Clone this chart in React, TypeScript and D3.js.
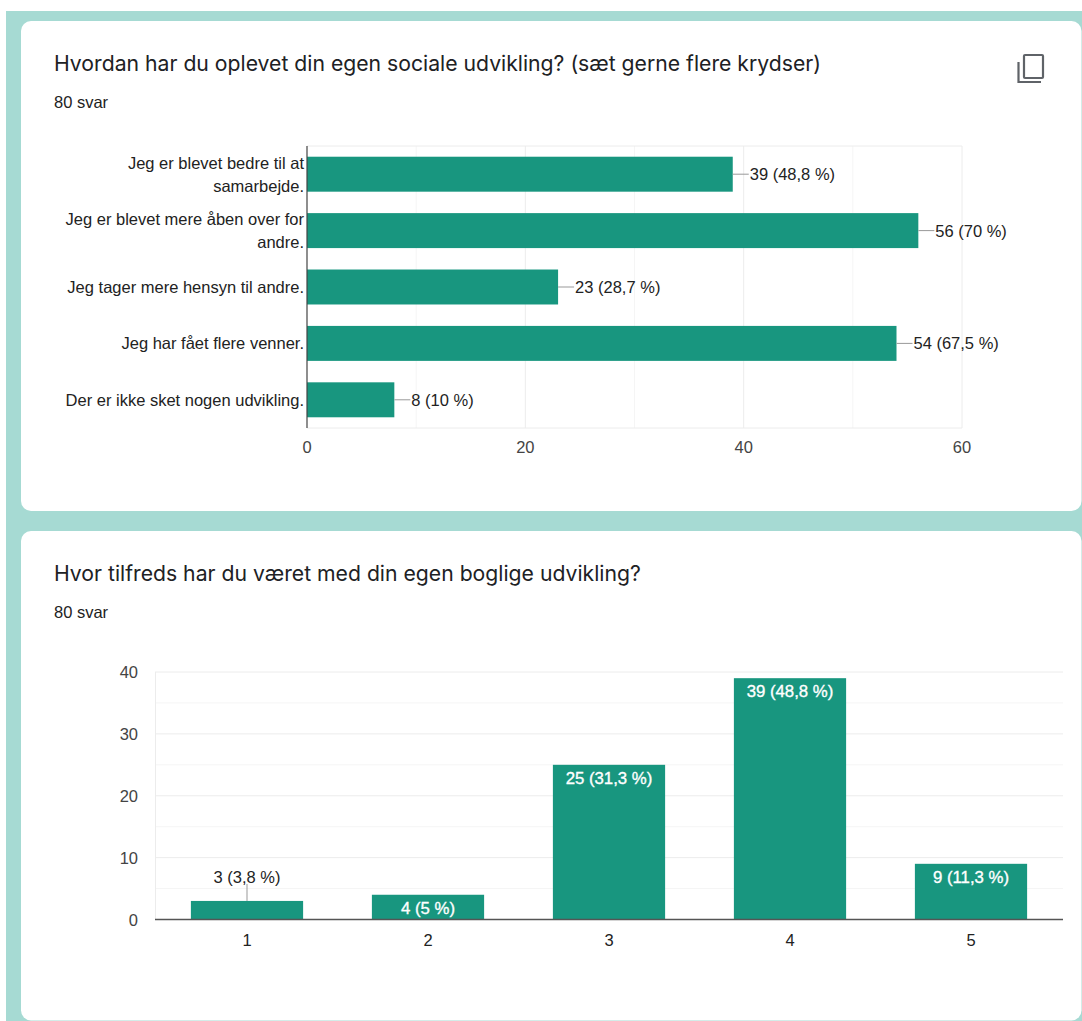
import React from "react";
import * as d3 from "d3";

const title1 = "Hvordan har du oplevet din egen sociale udvikling? (sæt gerne flere krydser)";
const title2 = "Hvor tilfreds har du været med din egen boglige udvikling?";
const answers = "80 svar";
const cats1 = [
  ["Jeg er blevet bedre til at", "samarbejde."],
  ["Jeg er blevet mere åben over for", "andre."],
  ["Jeg tager mere hensyn til andre."],
  ["Jeg har fået flere venner."],
  ["Der er ikke sket nogen udvikling."],
];
const values1 = [39, 56, 23, 54, 8];
const labels1 = ["39 (48,8 %)", "56 (70 %)", "23 (28,7 %)", "54 (67,5 %)", "8 (10 %)"];
const ticks1 = [0, 20, 40, 60];
const minor1 = [10, 30, 50];

const cats2 = ["1", "2", "3", "4", "5"];
const values2 = [3, 4, 25, 39, 9];
const labels2 = ["3 (3,8 %)", "4 (5 %)", "25 (31,3 %)", "39 (48,8 %)", "9 (11,3 %)"];
const ticks2 = [0, 10, 20, 30, 40];
const minor2 = [5, 15, 25, 35];

const TEAL = "#18967f";
const BG = "#a6dad3";
const GRID = "#ececec";
const MINOR = "#f5f5f5";
const ARIAL = "'Liberation Sans', Arial, sans-serif";
const TITLE = "Inter, Roboto, sans-serif";
const TEXT = "#222222";

const x1 = d3.scaleLinear().domain([0, 60]).range([307, 962]);
const y1 = d3.scaleBand<number>().domain(d3.range(5)).range([146, 428]).paddingInner(0.38).paddingOuter(0.19);
const x2 = d3.scaleBand<string>().domain(cats2).range([156.5, 1061.5]).paddingInner(0.38).paddingOuter(0.19);
const y2 = d3.scaleLinear().domain([0, 40]).range([919.5, 672]);

export default function App() {
  return (
    <svg width={1082} height={1021} style={{ position: "absolute", left: 0, top: 0, background: "#fff" }}>
      <rect x={6} y={11} width={1076} height={1010} fill={BG} />
      <rect x={21} y={21} width={1060.5} height={490} rx={10} fill="#fff" />
      <rect x={21} y={531} width={1060.5} height={489.5} rx={10} fill="#fff" />

      <text x={54} y={71} fontFamily={TITLE} fontSize={21.2} fill="#202124">{title1}</text>
      <text x={54} y={108} fontFamily={ARIAL} fontSize={16.5} fill={TEXT}>{answers}</text>
      <g fill="none" stroke="#5f6368" strokeWidth={2.2}>
        <rect x={1024} y={55} width={19} height={23} rx={1} />
        <path d="M1018.5 62 V82 H1041" />
      </g>

      {/* chart 1 */}
      <g>
        {minor1.map(t => <line key={t} x1={x1(t)} x2={x1(t)} y1={146} y2={428} stroke={MINOR} />)}
        {ticks1.slice(1).map(t => <line key={t} x1={x1(t)} x2={x1(t)} y1={146} y2={428} stroke={GRID} />)}
        <line x1={307} x2={962} y1={146} y2={146} stroke={GRID} />
        <line x1={307} x2={962} y1={428} y2={428} stroke={GRID} />
        {values1.map((v, i) => (
          <g key={i}>
            <rect x={x1(0)} y={y1(i)} width={x1(v) - x1(0)} height={y1.bandwidth()} fill={TEAL} />
            <line x1={x1(v)} x2={x1(v) + 16} y1={y1(i)! + y1.bandwidth() / 2} y2={y1(i)! + y1.bandwidth() / 2} stroke="#999" />
            <text x={x1(v) + 17} y={y1(i)! + y1.bandwidth() / 2 + 6} fontFamily={ARIAL} fontSize={16.5} fill={TEXT}>{labels1[i]}</text>
            {cats1[i].map((l, j) => (
              <text key={j} x={304} y={y1(i)! + y1.bandwidth() / 2 + 6 + (j - (cats1[i].length - 1) / 2) * 23}
                textAnchor="end" fontFamily={ARIAL} fontSize={16.5} fill={TEXT}>{l}</text>
            ))}
          </g>
        ))}
        <line x1={307} x2={307} y1={146} y2={428} stroke="#444" strokeWidth={1.2} />
        {ticks1.map(t => (
          <text key={t} x={x1(t)} y={453} textAnchor="middle" fontFamily={ARIAL} fontSize={16.5} fill="#444">{t}</text>
        ))}
      </g>

      <text x={54} y={581} fontFamily={TITLE} fontSize={21.2} fill="#202124">{title2}</text>
      <text x={54} y={618} fontFamily={ARIAL} fontSize={16.5} fill={TEXT}>{answers}</text>

      {/* chart 2 */}
      <g>
        {minor2.map(t => <line key={t} x1={155} x2={1063} y1={y2(t)} y2={y2(t)} stroke={MINOR} />)}
        {ticks2.slice(1).map(t => <line key={t} x1={155} x2={1063} y1={y2(t)} y2={y2(t)} stroke={GRID} />)}
        <line x1={155.5} x2={155.5} y1={672} y2={919} stroke={GRID} />
        {values2.map((v, i) => {
          const bx = x2(cats2[i])!;
          const cx = bx + x2.bandwidth() / 2;
          const outside = v === 3;
          return (
            <g key={i}>
              <rect x={bx} y={y2(v)} width={x2.bandwidth()} height={y2(0) - y2(v)} fill={TEAL} />
              {outside && <line x1={cx} x2={cx} y1={y2(v)} y2={y2(v) - 17} stroke="#999" />}
              <text x={cx} y={outside ? y2(v) - 18 : y2(v) + 19} textAnchor="middle" fontFamily={ARIAL}
                fontSize={outside ? 16.5 : 16.8} fill={outside ? TEXT : "#fff"}
                stroke={outside ? "none" : "#fff"} strokeWidth={outside ? 0 : 0.35}>{labels2[i]}</text>
              <text x={cx} y={946} textAnchor="middle" fontFamily={ARIAL} fontSize={16.5} fill={TEXT}>{cats2[i]}</text>
            </g>
          );
        })}
        <line x1={155} x2={1063} y1={y2(0)} y2={y2(0)} stroke="#555" strokeWidth={1.3} />
        {ticks2.map(t => (
          <text key={t} x={138} y={y2(t) + 6} textAnchor="end" fontFamily={ARIAL} fontSize={16.5} fill="#444">{t}</text>
        ))}
      </g>
    </svg>
  );
}
